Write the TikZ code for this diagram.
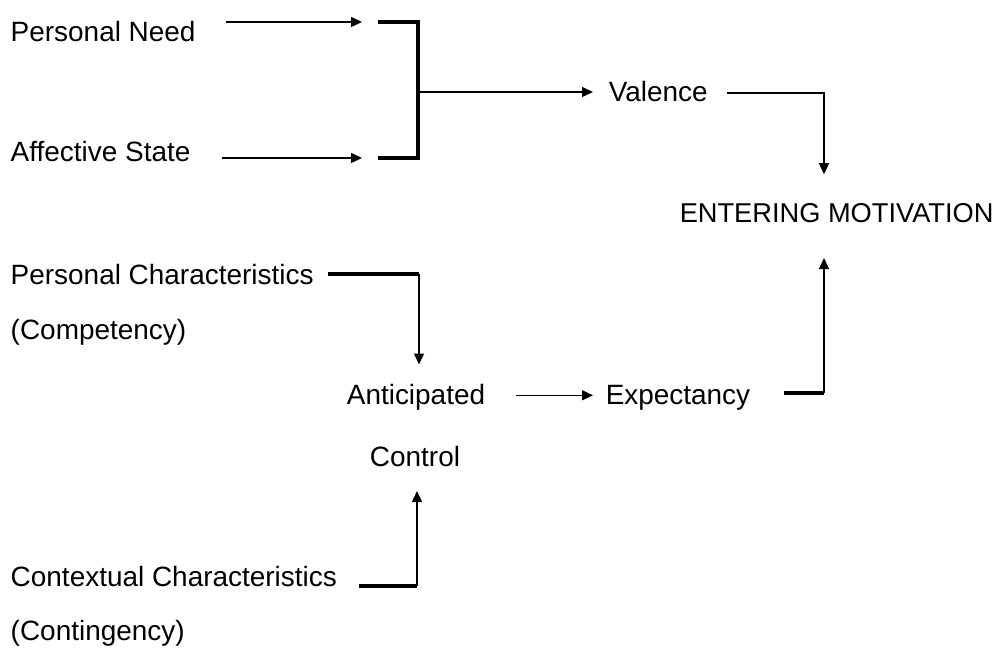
\documentclass[tikz,border=0pt]{standalone}
\usepackage{fontspec}
\setmainfont{Liberation Sans}
\usepackage{tikz}
\usetikzlibrary{arrows.meta}
\usetikzlibrary{calc}
\tikzset{
every picture/.style={line width=0.85pt, >={Triangle[length=2.2mm,width=2mm]}},
%%%%%%%%%%  Node styles
factor/.style={anchor=base west, inner sep=0pt,
               font=\fontsize{15.9}{19}\selectfont},
stage/.style={anchor=base, inner sep=0pt,
              font=\fontsize{15.9}{19}\selectfont},
outcome/.style={anchor=base west, inner sep=0pt,
                font=\fontsize{15.5}{18}\selectfont},
%%%% different line styles:
link/.style={line width=0.85pt},
stub/.style={line width=1.9pt}
}

\begin{document}
\begin{tikzpicture}
\useasboundingbox (0,0) rectangle (19.94,12.96);
%%%%%%% texts
\node[factor] (need) at (0.20,12.12) {Personal Need};
\node[factor] (affect) at (0.20,9.72) {Affective State};
\node[factor] (perschar) at (0.20,7.26) {Personal Characteristics};
\node[factor] (compet) at (0.20,6.16) {(Competency)};
\node[factor] (contchar) at (0.20,1.22) {Contextual Characteristics};
\node[factor] (conting) at (0.20,0.14) {(Contingency)};
\node[stage] (antic) at (8.32,4.86) {Anticipated};
\node[stage] (control) at (8.30,3.62) {Control};
\node[factor] (expect) at (12.10,4.86) {Expectancy};
\node[factor] (valence) at (12.16,10.92) {Valence};
\node[outcome] (motiv) at (13.58,8.50) {ENTERING MOTIVATION};
%%%%%%% bends
\coordinate (jtop) at (8.36,12.52);
\coordinate (jbot) at (8.36,9.80);
\coordinate (jmid) at (8.36,11.12);
\coordinate (vbend) at (16.48,11.10);
\coordinate (ebend) at (16.48,5.10);
\coordinate (pbend) at (8.38,7.48);
\coordinate (cbend) at (8.34,1.24);
%%%%%%% valence side
\draw[link,->,shorten <=6mm,shorten >=11.2mm] (need.east |- jtop) -- (jtop);
\draw[link,->,shorten <=6.2mm,shorten >=11.2mm] (affect.east |- jbot) -- (jbot);
\draw[stub] ($(jtop)+(-0.8,0)$) -- (jtop) -- (jbot) -- ($(jbot)+(-0.8,0)$);
\draw[link,->,shorten >=3mm] (jmid) -- (jmid -| valence.west);
\draw[link,->,shorten <=3.8mm,shorten >=5.8mm] (valence.east |- vbend) -- (vbend)
      -- (vbend |- motiv.north);
%%%%%%% expectancy side
\draw[stub,shorten <=2.7mm] (perschar.east |- pbend) -- (pbend);
\draw[link,->,shorten >=3.9mm] (pbend) -- (pbend |- antic.north);
\draw[stub,shorten <=4.2mm] (contchar.east |- cbend) -- (cbend);
\draw[link,->,shorten >=4.6mm] (cbend) -- (cbend |- control.south);
\draw[link,->,shorten <=6mm,shorten >=2.4mm] ([yshift=0.5mm]antic.east)
      -- ([yshift=0.5mm]expect.west |- antic.east);
\draw[stub] ($(ebend)+(-0.8,0)$) -- (ebend);
\draw[link,->,shorten >=6.8mm] (ebend) -- (ebend |- motiv.south);
\end{tikzpicture}
\end{document}
